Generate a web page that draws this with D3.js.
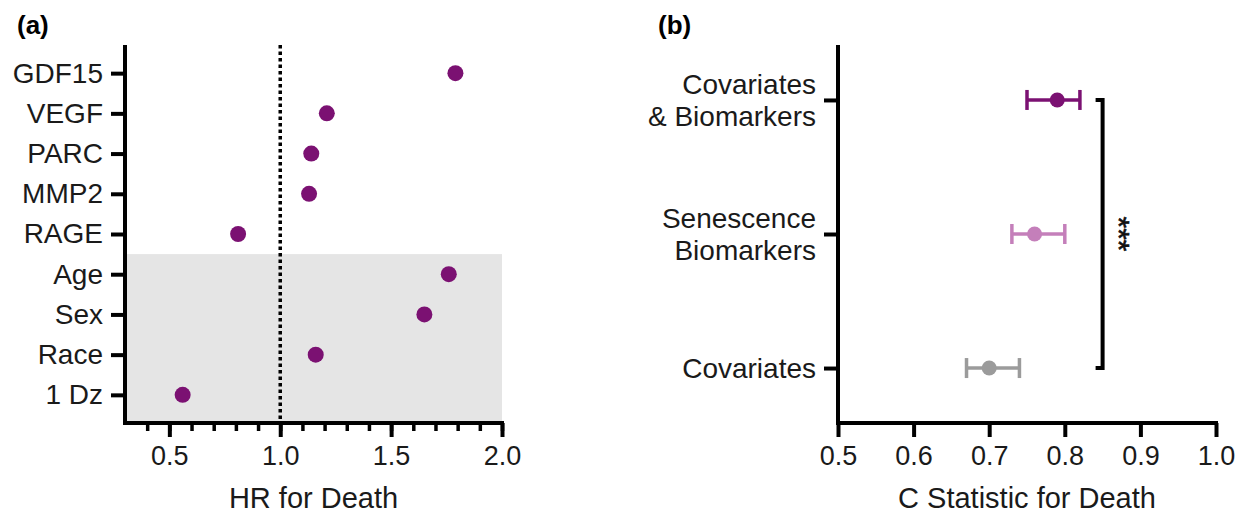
<!DOCTYPE html>
<html>
<head>
<meta charset="utf-8">
<script src="https://cdn.jsdelivr.net/npm/d3@7"></script>
<style>
  body { margin: 0; background: #fff; }
  svg { display: block; font-family: "Liberation Sans", Arial, Helvetica, sans-serif; }
  .axis path, .axis line { stroke: #000; }
  .axis text { fill: #1a1a1a; }
</style>
</head>
<body>
<div id="chart"></div>
<script>
// panel (a): hazard ratios
const hrLabels = ["GDF15", "VEGF", "PARC", "MMP2", "RAGE", "Age", "Sex", "Race", "1 Dz"];
const hrValues = [1.79, 1.21, 1.14, 1.13, 0.81, 1.76, 1.65, 1.16, 0.56];
const covariateLabels = ["Age", "Sex", "Race", "1 Dz"]; // shaded block
const hrTicks = [0.5, 1.0, 1.5, 2.0];

// panel (b): C statistics with CI
const modelLabels = [["Covariates", "& Biomarkers"], ["Senescence", "Biomarkers"], ["Covariates"]];
const cStat = [0.79, 0.76, 0.70];
const cLow = [0.75, 0.73, 0.67];
const cHigh = [0.82, 0.80, 0.74];
const modelColors = ["#7b1172", "#c47fba", "#9b9b9b"];
const cTicks = [0.5, 0.6, 0.7, 0.8, 0.9, 1.0];
const sigMark = "***";

const width = 1239, height = 516;
const purple = "#7b1172";
const tickFs = 27, labelFs = 28, titleFs = 29;
const sw = 4;

const svg = d3.select("#chart").append("svg")
    .attr("width", width)
    .attr("height", height);

// ---------- panel a ----------
const xa = d3.scaleLinear().domain([0.3, 2.0]).range([125, 502]);
const ya = d3.scalePoint().domain(hrLabels).range([45, 423]).padding(0.7);
const stepA = ya.step();

// grey covariate band
svg.append("rect")
    .attr("x", xa(0.3))
    .attr("y", ya(covariateLabels[0]) - stepA / 2)
    .attr("width", xa(2.0) - xa(0.3))
    .attr("height", 423 - (ya(covariateLabels[0]) - stepA / 2))
    .attr("fill", "#e5e5e5");

// reference line at HR = 1
svg.append("line")
    .attr("x1", xa(1)).attr("x2", xa(1))
    .attr("y1", 45).attr("y2", 423)
    .attr("stroke", "#000")
    .attr("stroke-width", 3.5)
    .attr("stroke-dasharray", "3.5,3");

svg.selectAll(".hrdot")
    .data(hrValues)
    .enter().append("circle")
    .attr("class", "hrdot")
    .attr("cx", d => xa(d))
    .attr("cy", (d, i) => ya(hrLabels[i]))
    .attr("r", 8)
    .attr("fill", purple);

// minor x ticks
svg.append("g")
    .attr("class", "axis")
    .attr("transform", "translate(0,423)")
    .call(d3.axisBottom(xa).tickValues(d3.range(4, 21).map(d => d / 10)).tickSize(8).tickSizeOuter(0).tickFormat(""))
    .call(g => g.select(".domain").remove())
    .selectAll("line").attr("stroke-width", 3.5);

// major x ticks
const xAxisA = svg.append("g")
    .attr("class", "axis")
    .attr("transform", "translate(0,423)")
    .call(d3.axisBottom(xa).tickValues(hrTicks).tickSize(14).tickSizeOuter(0).tickPadding(9).tickFormat(d3.format(".1f")));
xAxisA.selectAll("line").attr("stroke-width", sw);
xAxisA.select(".domain").attr("d", `M${125 - sw / 2},0H${502 + sw / 2}`).attr("stroke-width", sw);
xAxisA.selectAll("text").attr("font-size", tickFs);

const yAxisA = svg.append("g")
    .attr("class", "axis")
    .attr("transform", "translate(125,0)")
    .call(d3.axisLeft(ya).tickSize(14).tickSizeOuter(0).tickPadding(8));
yAxisA.select(".domain").attr("d", "M0,45V425").attr("stroke-width", sw);
yAxisA.selectAll("line").attr("stroke-width", sw);
yAxisA.selectAll("text").attr("font-size", labelFs);

svg.append("text")
    .attr("x", (xa(0.3) + xa(2.0)) / 2)
    .attr("y", 508)
    .attr("text-anchor", "middle")
    .attr("font-size", titleFs)
    .attr("fill", "#1a1a1a")
    .text("HR for Death");

svg.append("text")
    .attr("x", 17).attr("y", 34)
    .attr("font-size", 26)
    .attr("font-weight", "bold")
    .text("(a)");

// ---------- panel b ----------
const xb = d3.scaleLinear().domain([0.5, 1.0]).range([838, 1216]);
const yb = d3.scalePoint().domain(d3.range(modelLabels.length)).range([45, 423]).padding(0.41);

const bars = svg.selectAll(".cbar")
    .data(cStat)
    .enter().append("g")
    .attr("class", "cbar")
    .attr("transform", (d, i) => `translate(0,${yb(i)})`)
    .attr("stroke", (d, i) => modelColors[i])
    .attr("fill", (d, i) => modelColors[i]);
bars.append("line")
    .attr("x1", (d, i) => xb(cLow[i])).attr("x2", (d, i) => xb(cHigh[i]))
    .attr("stroke-width", 3.5);
bars.append("line")
    .attr("x1", (d, i) => xb(cLow[i])).attr("x2", (d, i) => xb(cLow[i]))
    .attr("y1", -10).attr("y2", 10)
    .attr("stroke-width", 3.5);
bars.append("line")
    .attr("x1", (d, i) => xb(cHigh[i])).attr("x2", (d, i) => xb(cHigh[i]))
    .attr("y1", -10).attr("y2", 10)
    .attr("stroke-width", 3.5);
bars.append("circle")
    .attr("cx", d => xb(d))
    .attr("r", 7.5)
    .attr("stroke", "none");

// significance bracket between first and last model
const bx = xb(0.85);
svg.append("path")
    .attr("d", `M${bx - 7},${yb(0)}H${bx}V${yb(2)}H${bx - 7}`)
    .attr("fill", "none")
    .attr("stroke", "#000")
    .attr("stroke-width", sw);
svg.append("text")
    .attr("transform", `translate(${bx + 6},${yb(1)}) rotate(90)`)
    .attr("text-anchor", "middle")
    .attr("font-size", 30)
    .attr("stroke", "#111")
    .attr("stroke-width", 0.6)
    .attr("fill", "#111")
    .text(sigMark);

const xAxisB = svg.append("g")
    .attr("class", "axis")
    .attr("transform", "translate(0,423)")
    .call(d3.axisBottom(xb).tickValues(cTicks).tickSize(14).tickSizeOuter(0).tickPadding(9).tickFormat(d3.format(".1f")));
xAxisB.selectAll("line").attr("stroke-width", sw);
xAxisB.select(".domain").attr("d", `M${838 - sw / 2},0H${1216 + sw / 2}`).attr("stroke-width", sw);
xAxisB.selectAll("text").attr("font-size", tickFs);

const yAxisB = svg.append("g")
    .attr("class", "axis")
    .attr("transform", "translate(838,0)")
    .call(d3.axisLeft(yb).tickSize(14).tickSizeOuter(0).tickFormat(""));
yAxisB.select(".domain").attr("d", "M0,45V425").attr("stroke-width", sw);
yAxisB.selectAll("line").attr("stroke-width", sw);

// multi-line model labels
yAxisB.selectAll(".tick").each(function(d) {
    const lines = modelLabels[d];
    const t = d3.select(this).append("text")
        .attr("x", -22)
        .attr("text-anchor", "end")
        .attr("font-size", labelFs)
        .attr("fill", "#1a1a1a");
    lines.forEach((s, k) => {
        t.append("tspan")
            .attr("x", -22)
            .attr("y", (k - (lines.length - 1) / 2) * 32)
            .attr("dy", "0.35em")
            .text(s);
    });
});

svg.append("text")
    .attr("x", (xb(0.5) + xb(1.0)) / 2)
    .attr("y", 508)
    .attr("text-anchor", "middle")
    .attr("font-size", titleFs)
    .attr("fill", "#1a1a1a")
    .text("C Statistic for Death");

svg.append("text")
    .attr("x", 658).attr("y", 34)
    .attr("font-size", 26)
    .attr("font-weight", "bold")
    .text("(b)");
</script>
</body>
</html>
